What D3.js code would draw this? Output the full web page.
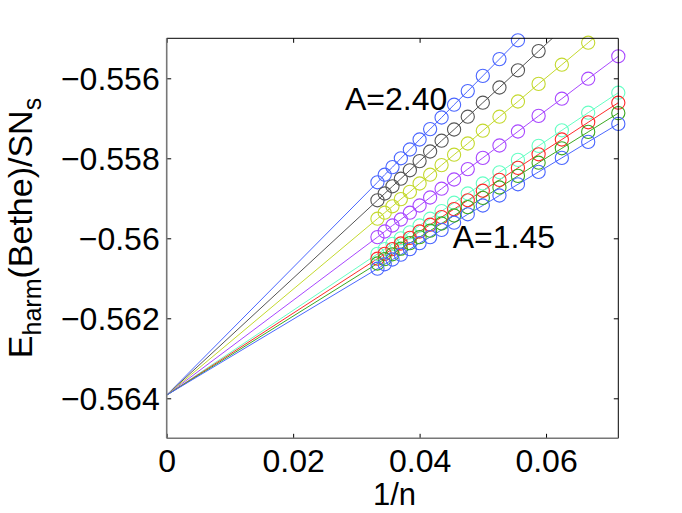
<!DOCTYPE html>
<html>
<head>
<meta charset="utf-8">
<script src="https://cdn.jsdelivr.net/npm/d3@7"></script>
<style>
  body { margin: 0; background: #fff; }
  text { font-family: "Liberation Sans", Arial, sans-serif; fill: #000; }
</style>
</head>
<body>
<div id="chart"></div>
<script>
// system sizes n, plotted against 1/n
const sizes = [30, 29, 28, 27, 26, 25, 24, 23, 22, 21, 20, 19, 18, 17, 16, 15, 14];

// extrapolated value at 1/n = 0 (all series meet there)
const intercept = -0.56392;

// one series per A value, top (A=2.40) to bottom (A=1.45)
const seriesA240 = [-0.55860, -0.55841, -0.55822, -0.55800, -0.55778, -0.55753, -0.55727, -0.55698, -0.55666, -0.55632, -0.55594, -0.55552, -0.55505, -0.55453, -0.55394, -0.55327, -0.55251];
const seriesB = [-0.55905, -0.55888, -0.55870, -0.55851, -0.55830, -0.55807, -0.55783, -0.55756, -0.55728, -0.55696, -0.55661, -0.55623, -0.55580, -0.55532, -0.55478, -0.55417, -0.55348];
const seriesC = [-0.55951, -0.55936, -0.55920, -0.55902, -0.55884, -0.55863, -0.55841, -0.55817, -0.55791, -0.55763, -0.55731, -0.55696, -0.55658, -0.55614, -0.55566, -0.55511, -0.55448];
const seriesD = [-0.55997, -0.55983, -0.55968, -0.55953, -0.55936, -0.55918, -0.55898, -0.55876, -0.55853, -0.55827, -0.55799, -0.55768, -0.55733, -0.55694, -0.55651, -0.55601, -0.55545];
const seriesE = [-0.56039, -0.56027, -0.56014, -0.56000, -0.55985, -0.55968, -0.55951, -0.55932, -0.55911, -0.55888, -0.55863, -0.55835, -0.55804, -0.55769, -0.55730, -0.55686, -0.55636];
const seriesF = [-0.56051, -0.56039, -0.56027, -0.56013, -0.55999, -0.55983, -0.55966, -0.55947, -0.55927, -0.55905, -0.55881, -0.55854, -0.55824, -0.55790, -0.55753, -0.55710, -0.55661];
const seriesG = [-0.56063, -0.56052, -0.56040, -0.56026, -0.56012, -0.55997, -0.55981, -0.55963, -0.55943, -0.55922, -0.55899, -0.55873, -0.55844, -0.55811, -0.55775, -0.55734, -0.55687];
const seriesA145 = [-0.56076, -0.56065, -0.56053, -0.56041, -0.56027, -0.56012, -0.55997, -0.55979, -0.55961, -0.55940, -0.55918, -0.55893, -0.55865, -0.55834, -0.55799, -0.55759, -0.55714];

const xTicks = [0, 0.02, 0.04, 0.06];
const xTickLabels = ["0", "0.02", "0.04", "0.06"];
const yTicks = [-0.564, -0.562, -0.56, -0.558, -0.556];
const yTickLabels = ["\u22120.564", "\u22120.562", "\u22120.56", "\u22120.558", "\u22120.556"];

const series = [
    {values: seriesA240, color: "#4a66ff"},
    {values: seriesB, color: "#555555"},
    {values: seriesC, color: "#c4d92e"},
    {values: seriesD, color: "#a847ff"},
    {values: seriesE, color: "#66ffc4"},
    {values: seriesF, color: "#ff2a2a"},
    {values: seriesG, color: "#3aa820"},
    {values: seriesA145, color: "#4a66ff"}
];

const margin = {top: 38.3, right: 63.7, bottom: 74.7, left: 166.7},
      width = 682 - margin.left - margin.right,
      height = 513 - margin.top - margin.bottom;

const svg = d3.select("#chart").append("svg")
    .attr("width", 682)
    .attr("height", 513)
    .append("g")
    .attr("transform", `translate(${margin.left},${margin.top})`);

const x = d3.scaleLinear().domain([0, 1 / 14]).range([0, width]);
const y = d3.scaleLinear().domain([-0.565, -0.555]).range([height, 0]);

svg.append("clipPath").attr("id", "plot-clip")
    .append("rect").attr("width", width).attr("height", height);

// Lines from the extrapolated point through the data
const line = d3.line().x(d => x(d[0])).y(d => y(d[1]));
const plot = svg.append("g").attr("clip-path", "url(#plot-clip)");

series.forEach(s => {
    const pts = [[0, intercept]].concat(sizes.map((n, i) => [1 / n, s.values[i]]));
    plot.append("path")
        .attr("d", line(pts))
        .attr("fill", "none")
        .attr("stroke", s.color)
        .attr("stroke-width", 1);
});

// Circle markers (drawn only where the point itself lies inside the axes)
series.forEach(s => {
    svg.append("g").selectAll("circle")
        .data(sizes.map((n, i) => [1 / n, s.values[i]]).filter(d => d[1] <= -0.555))
        .enter()
        .append("circle")
        .attr("cx", d => x(d[0]))
        .attr("cy", d => y(d[1]))
        .attr("r", 6.6)
        .attr("fill", "none")
        .attr("stroke", s.color)
        .attr("stroke-width", 1.1);
});

// Axes: ticks point inwards and are mirrored on top / right
const tickLen = 4.5;
svg.append("g")
    .attr("transform", `translate(0,${height})`)
    .call(d3.axisBottom(x).tickValues(xTicks).tickSizeInner(-tickLen).tickSizeOuter(0).tickFormat((d, i) => xTickLabels[i]))
    .call(g => g.select(".domain").remove())
    .call(g => g.selectAll("text").attr("dy", null).attr("y", 34).style("font-size", "32px").attr("font-family", null));

svg.append("g")
    .call(d3.axisTop(x).tickValues(xTicks).tickSizeInner(-tickLen).tickSizeOuter(0).tickFormat(""))
    .call(g => g.select(".domain").remove());

svg.append("g")
    .call(d3.axisLeft(y).tickValues(yTicks).tickSizeInner(-tickLen).tickSizeOuter(0).tickFormat((d, i) => yTickLabels[i]))
    .call(g => g.select(".domain").remove())
    .call(g => g.selectAll("text").attr("dy", null).attr("x", -7).attr("y", 11).style("font-size", "32px").attr("font-family", null));

svg.append("g")
    .attr("transform", `translate(${width},0)`)
    .call(d3.axisRight(y).tickValues(yTicks).tickSizeInner(-tickLen).tickSizeOuter(0).tickFormat(""))
    .call(g => g.select(".domain").remove());

svg.selectAll(".tick line").attr("stroke", "#000");

// Box
svg.append("line").attr("x1", 0).attr("x2", width).attr("y1", 0).attr("y2", 0).attr("stroke", "#000");
svg.append("line").attr("x1", width).attr("x2", width).attr("y1", 0).attr("y2", height).attr("stroke", "#000");
svg.append("line").attr("x1", 0).attr("x2", 0).attr("y1", 0).attr("y2", height).attr("stroke", "#777").attr("stroke-width", 1.6);
svg.append("line").attr("x1", 0).attr("x2", width).attr("y1", height).attr("y2", height).attr("stroke", "#777").attr("stroke-width", 1.6);

// Axis labels
svg.append("text")
    .attr("x", width / 2 + 2)
    .attr("y", height + 67)
    .attr("text-anchor", "middle")
    .style("font-size", "31px")
    .text("1/n");

const yLabel = svg.append("text")
    .attr("transform", `translate(${32 - margin.left},${228 - margin.top}) rotate(-90)`)
    .attr("text-anchor", "middle")
    .style("font-size", "34px");
yLabel.append("tspan").text("E");
yLabel.append("tspan").attr("dy", 9).style("font-size", "25px").text("harm");
yLabel.append("tspan").attr("dy", -9).text("(Bethe)/SN");
yLabel.append("tspan").attr("dy", 9).style("font-size", "25px").text("s");

// Annotations
svg.append("text")
    .attr("x", 345 - margin.left)
    .attr("y", 110 - margin.top)
    .style("font-size", "32px")
    .text("A=2.40");

svg.append("text")
    .attr("x", 452.7 - margin.left)
    .attr("y", 248.3 - margin.top)
    .style("font-size", "32px")
    .text("A=1.45");
</script>
</body>
</html>
